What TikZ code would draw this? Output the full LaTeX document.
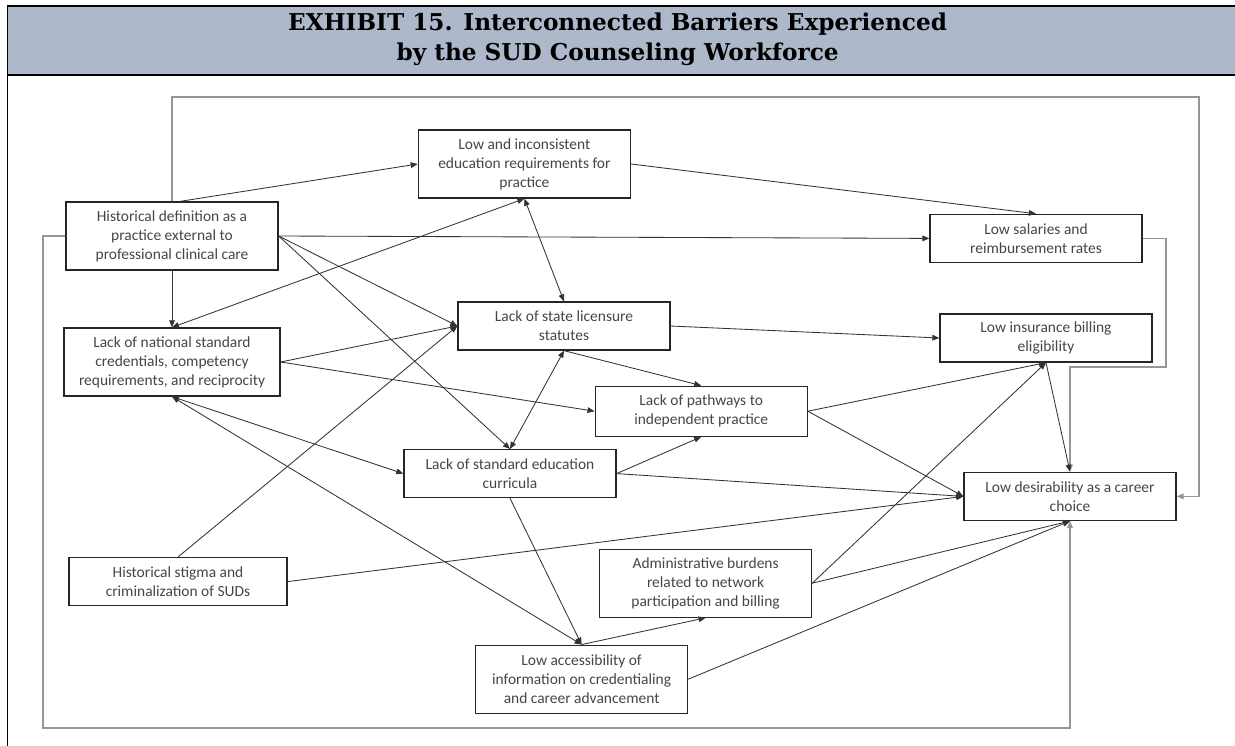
\documentclass[tikz,border=0pt]{standalone}
\usepackage{fontspec}
\setmainfont{Carlito}
\newfontfamily\headfont{DejaVu Serif}
\usetikzlibrary{arrows.meta}
\definecolor{headfill}{RGB}{173,185,202}
\definecolor{boxtext}{RGB}{70,70,70}
\definecolor{feedgray}{RGB}{150,150,150}

\begin{document}
\begin{tikzpicture}[
  >={Triangle[length=5pt,width=4pt]},
  barrier/.style={draw=black!85, line width=0.9pt, fill=white, text=boxtext, minimum width=5.3cm, minimum height=1.2cm, align=center, inner sep=2pt, font=\fontsize{11pt}{13.5pt}\selectfont},
  tall/.style={minimum height=1.7cm},
  link/.style={color=black!80, line width=0.6pt},
  feedback/.style={color=feedgray, line width=1.1pt}
]
\useasboundingbox (0,0) rectangle (30.875,-18.65);

% header band and frame
\fill [headfill] (0.1875,-0.15) rectangle (30.875,-1.875);
\draw [line width=1.4pt] (30.875,-0.15) -- (0.1875,-0.15) -- (0.1875,-18.65);
\draw [line width=1.4pt] (0.1875,-1.875) -- (30.875,-1.875);
\node (T) at (15.44,-0.97) [align=center, font=\headfont\bfseries\fontsize{16.5pt}{21.3pt}\selectfont]{EXHIBIT 15. Interconnected Barriers Experienced\\by the SUD Counseling Workforce};

\node (H-1) at (4.30,-5.90) [barrier, tall]{Historical definition as a\\practice external to\\professional clinical care};
\node (L-1) at (4.30,-9.05) [barrier, tall, minimum width=5.4cm]{Lack of national standard\\credentials, competency\\requirements, and reciprocity};
\node (H-2) at (4.45,-14.54) [barrier, minimum width=5.45cm]{Historical stigma and\\criminalization of SUDs};

\node (W-1) at (13.11,-4.10) [barrier, tall]{Low and inconsistent\\education requirements for\\practice};
\node (L-2) at (14.10,-8.15) [barrier]{Lack of state licensure\\statutes};
\node (L-3) at (17.53,-10.28) [barrier, minimum height=1.25cm]{Lack of pathways to\\independent practice};
\node (L-4) at (12.75,-11.84) [barrier]{Lack of standard education\\curricula};
\node (A-1) at (17.64,-14.58) [barrier, tall]{Administrative burdens\\related to network\\participation and billing};
\node (W-5) at (14.54,-16.98) [barrier, tall]{Low accessibility of\\information on credentialing\\and career advancement};

\node (W-2) at (25.90,-5.96) [barrier]{Low salaries and\\reimbursement rates};
\node (W-3) at (26.15,-8.45) [barrier]{Low insurance billing\\eligibility};
\node (W-4) at (26.75,-12.41) [barrier]{Low desirability as a career\\choice};

% feedback loops
\coordinate (T-1) at (29.975,-2.425);
\coordinate (T-2) at (1.075,-18.2);
\coordinate (T-3) at (29.15,-9.175);
\draw [->] [feedback](H-1.north) |- (T-1) |- (W-4.east);
\draw [->] [feedback](H-1.west) -| (T-2) -| (W-4.south);
\draw [->] [feedback](W-2.east) -| (T-3) -| (W-4.north);

\draw [->] [link]([xshift=0.2cm]H-1.north) -- (W-1.west);
\draw [->] [link](H-1.south) -- (L-1.north);
\draw [->] [link](H-1.east) -- (W-2.west);
\draw [->] [link](H-1.east) -- (L-2.west);
\draw [->] [link](H-1.east) -- (L-4.north);
\draw [<->] [link](L-1.north) -- (W-1.south);
\draw [<->] [link](W-1.south) -- (L-2.north);
\draw [->] [link](W-1.east) -- (W-2.north);
\draw [->] [link](L-1.east) -- (L-2.west);
\draw [->] [link](L-1.east) -- (L-3.west);
\draw [<->] [link](L-1.south) -- (L-4.west);
\draw [<->] [link](L-1.south) -- (W-5.north);
\draw [->] [link](H-2.north) -- (L-2.west);
\draw [->] [link](H-2.east) -- (W-4.west);
\draw [->] [link](L-2.east) -- (W-3.west);
\draw [->] [link](L-2.south) -- (L-3.north);
\draw [<->] [link](L-2.south) -- (L-4.north);
\draw [->] [link](L-4.east) -- (L-3.south);
\draw [->] [link](L-4.east) -- (W-4.west);
\draw [->] [link](L-4.south) -- (W-5.north);
\draw [->] [link](L-3.east) -- (W-3.south);
\draw [->] [link](L-3.east) -- (W-4.west);
\draw [->] [link](W-5.north) -- (A-1.south);
\draw [->] [link](W-5.east) -- (W-4.south);
\draw [->] [link](A-1.east) -- (W-3.south);
\draw [->] [link](A-1.east) -- (W-4.south);
\draw [->] [link](W-3.south) -- (W-4.north);

\end{tikzpicture}
\end{document}
